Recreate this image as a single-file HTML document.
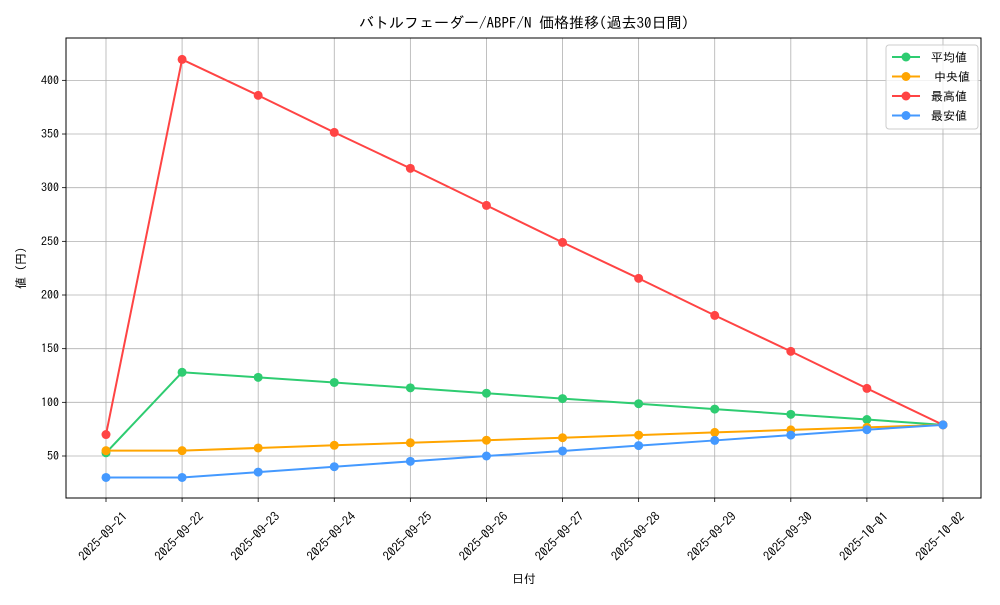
<!DOCTYPE html>
<html><head><meta charset="utf-8"><style>
body{margin:0;background:#fff}
svg text{font-family:"IPAGothic","Liberation Sans","Noto Sans CJK JP",sans-serif;fill:#000}
</style></head><body>
<svg id="s" width="1000" height="600" xmlns="http://www.w3.org/2000/svg"></svg>
<script>
const s=document.getElementById('s');
let h='';
const X0=66,X1=981,Y0=38,Y1=498;
const xp=i=>106+i*76.09, yp=v=>456-(v-50)*1.0733;
h+=`<rect x="0" y="0" width="1000" height="600" fill="#fff"/>`;
const dates=['2025-09-21','2025-09-22','2025-09-23','2025-09-24','2025-09-25','2025-09-26','2025-09-27','2025-09-28','2025-09-29','2025-09-30','2025-10-01','2025-10-02'];
for(let i=0;i<12;i++){const x=xp(i);
h+=`<line x1="${x}" y1="${Y0}" x2="${x}" y2="${Y1}" stroke="#b0b0b0" stroke-width="0.8"/>`;
h+=`<line x1="${x}" y1="${Y1}" x2="${x}" y2="${Y1+4}" stroke="#000" stroke-width="0.8"/>`;
h+=`<text font-size="12.5" text-anchor="end" transform="translate(${x+16},${Y1+13}) rotate(-45)" dy="0.7em">${dates[i]}</text>`;}
for(let v=50;v<=400;v+=50){const y=yp(v);
h+=`<line x1="${X0}" y1="${y}" x2="${X1}" y2="${y}" stroke="#b0b0b0" stroke-width="0.8"/>`;
h+=`<line x1="${X0-4}" y1="${y}" x2="${X0}" y2="${y}" stroke="#000" stroke-width="0.8"/>`;
h+=`<text x="${X0-7}" y="${y+4}" font-size="12" text-anchor="end">${v}</text>`;}
const series=[
['#2ecc71',[53,128,123.3,118.5,113.5,108.5,103.5,98.7,93.7,88.8,84,79]],
['#ffa500',[55,55,57.5,60,62.3,64.7,67,69.5,72,74.3,76.7,79]],
['#ff4444',[70,419.5,386,351.5,318,283.5,249,215.5,181,147.5,113,79]],
['#4499ff',[30,30,35,40,45,50,54.7,59.7,64.5,69.5,74.5,79]]];
for(const [c,d] of series){
h+=`<polyline fill="none" stroke="${c}" stroke-width="2" points="${d.map((v,i)=>xp(i)+','+yp(v)).join(' ')}"/>`;
d.forEach((v,i)=>h+=`<circle cx="${xp(i)}" cy="${yp(v)}" r="4.5" fill="${c}"/>`);}
h+=`<rect x="${X0}" y="${Y0}" width="${X1-X0}" height="${Y1-Y0}" fill="none" stroke="#000" stroke-width="1"/>`;
h+=`<text x="524" y="28" font-size="15" text-anchor="middle">バトルフェーダー/ABPF/N 価格推移(過去30日間)</text>`;
h+=`<text x="524" y="583" font-size="12" text-anchor="middle">日付</text>`;
h+=`<text font-size="12" text-anchor="middle" transform="translate(25,268) rotate(-90)">値 (円)</text>`;
h+=`<rect x="886" y="45" width="92" height="84" rx="3" fill="#fff" fill-opacity="0.8" stroke="#ccc"/>`;
const names=['平均値','中央値','最高値','最安値'];
series.forEach(([c],i)=>{const y=57+i*19.5;
h+=`<line x1="892" y1="${y}" x2="920" y2="${y}" stroke="${c}" stroke-width="2"/><circle cx="906" cy="${y}" r="4.5" fill="${c}"/>`;
h+=`<text x="${i==1?934:931}" y="${y+4.5}" font-size="12">${names[i]}</text>`;});
s.innerHTML=h;
</script>
</body></html>
